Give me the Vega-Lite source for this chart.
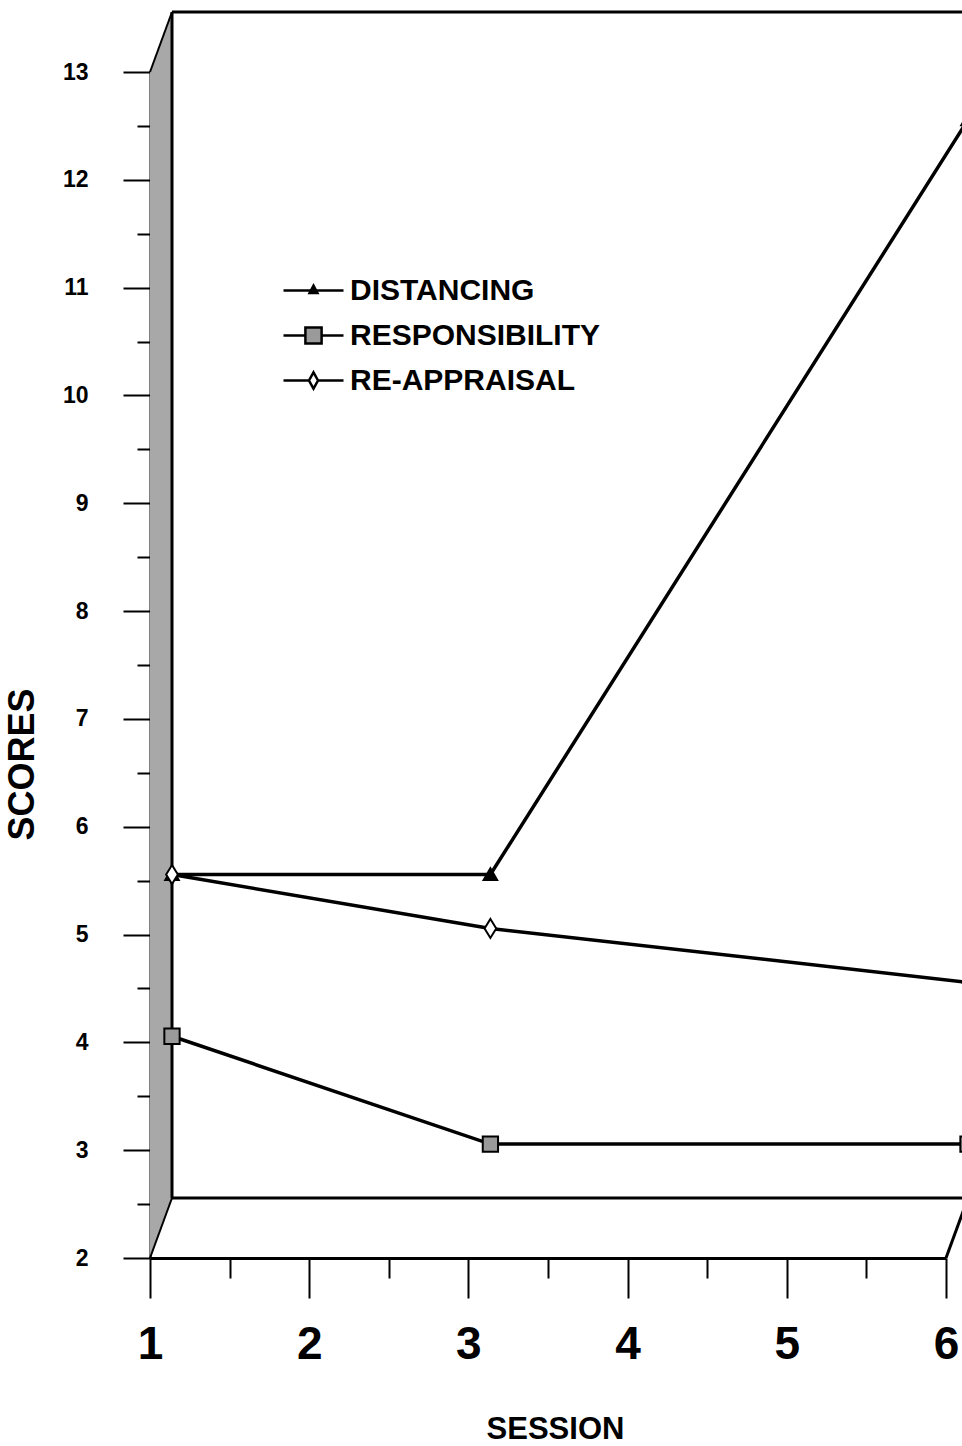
{
  "$schema": "https://vega.github.io/schema/vega-lite/v6.json",
  "width": 796,
  "height": 1186,
  "autosize": {"type": "none"},
  "padding": {"left": 150, "top": 72, "right": 16, "bottom": 188},
  "background": "white",
  "config": {"view": {"stroke": null}},
  "datasets": {
    "scores": [
      {"session": 1, "measure": "DISTANCING", "score": 5},
      {"session": 3, "measure": "DISTANCING", "score": 5},
      {"session": 6, "measure": "DISTANCING", "score": 12},
      {"session": 1, "measure": "RESPONSIBILITY", "score": 3.5},
      {"session": 3, "measure": "RESPONSIBILITY", "score": 2.5},
      {"session": 6, "measure": "RESPONSIBILITY", "score": 2.5},
      {"session": 1, "measure": "RE-APPRAISAL", "score": 5},
      {"session": 3, "measure": "RE-APPRAISAL", "score": 4.5},
      {"session": 6, "measure": "RE-APPRAISAL", "score": 4}
    ],
    "wall": [
      {"session": 1, "top": 13, "bottom": 2},
      {"session": 1.138, "top": 13.557, "bottom": 2.557}
    ]
  },
  "resolve": {"scale": {"shape": "independent", "fill": "independent", "stroke": "independent"}},
  "layer": [
    {
      "data": {"name": "wall"},
      "mark": {"type": "area", "orient": "vertical", "color": "#a8a8a8"},
      "encoding": {
        "x": {
          "field": "session", "type": "quantitative",
          "scale": {"domain": [1, 6], "nice": false, "zero": false},
          "axis": {
            "title": "SESSION",
            "values": [1, 1.5, 2, 2.5, 3, 3.5, 4, 4.5, 5, 5.5, 6],
            "labelExpr": "datum.value % 1 ? '' : '' + datum.value",
            "labelOverlap": false,
            "labelFlush": false,
            "grid": false,
            "domainColor": "black", "domainWidth": 3,
            "tickColor": "black", "tickWidth": 2, "tickSize": 40,
            "tickDash": {"condition": {"test": "datum.value % 1 !== 0", "value": [20, 40]}, "value": [60, 0]},
            "labelFont": "Liberation Sans", "labelFontSize": 46, "labelFontWeight": "bold", "labelColor": "black",
            "labelPadding": 24,
            "titleFont": "Liberation Sans", "titleFontSize": 31, "titleFontWeight": "bold", "titleColor": "black",
            "titleX": 405, "titleY": 180, "titleBaseline": "alphabetic", "titleAlign": "center"
          }
        },
        "y": {
          "field": "top", "type": "quantitative",
          "scale": {"domain": [2, 13], "nice": false, "zero": false},
          "axis": {
            "title": "SCORES",
            "values": [2, 2.5, 3, 3.5, 4, 4.5, 5, 5.5, 6, 6.5, 7, 7.5, 8, 8.5, 9, 9.5, 10, 10.5, 11, 11.5, 12, 12.5, 13],
            "labelExpr": "datum.value % 1 ? '' : '' + datum.value",
            "labelOverlap": false,
            "grid": false,
            "domainColor": "black", "domainWidth": 2,
            "tickColor": "black", "tickWidth": 2, "tickSize": 27,
            "tickDash": {"condition": {"test": "datum.value % 1 !== 0", "value": [13, 40]}, "value": [40, 0]},
            "labelFont": "Liberation Sans", "labelFontSize": 23, "labelFontWeight": "bold", "labelColor": "black",
            "labelPadding": 35,
            "titleFont": "Liberation Sans", "titleFontSize": 36, "titleFontWeight": "bold", "titleColor": "black",
            "titleX": -117, "titleY": 692, "titleBaseline": "alphabetic", "titleAlign": "center", "titleAngle": -90
          }
        },
        "y2": {"field": "bottom"}
      }
    },
    {
      "data": {"values": [{}]},
      "mark": {"type": "rule", "color": "black", "strokeWidth": 3, "xOffset": 22, "x2Offset": 22, "yOffset": -60},
      "encoding": {
        "x": {"datum": 1, "type": "quantitative", "scale": {"domain": [1, 6], "nice": false, "zero": false}},
        "x2": {"datum": 6},
        "y": {"datum": 13, "type": "quantitative", "scale": {"domain": [2, 13], "nice": false, "zero": false}}
      }
    },
    {
      "data": {"values": [{}]},
      "mark": {"type": "rule", "color": "black", "strokeWidth": 3, "xOffset": 22, "x2Offset": 22, "yOffset": -60},
      "encoding": {
        "x": {"datum": 1, "type": "quantitative", "scale": {"domain": [1, 6], "nice": false, "zero": false}},
        "x2": {"datum": 6},
        "y": {"datum": 2, "type": "quantitative", "scale": {"domain": [2, 13], "nice": false, "zero": false}}
      }
    },
    {
      "data": {"values": [{}]},
      "mark": {"type": "rule", "color": "black", "strokeWidth": 3, "xOffset": 22, "yOffset": -60, "y2Offset": -60},
      "encoding": {
        "x": {"datum": 1, "type": "quantitative", "scale": {"domain": [1, 6], "nice": false, "zero": false}},
        "y": {"datum": 13, "type": "quantitative", "scale": {"domain": [2, 13], "nice": false, "zero": false}},
        "y2": {"datum": 2}
      }
    },
    {
      "data": {"values": [{}]},
      "mark": {"type": "rule", "color": "black", "strokeWidth": 2, "x2Offset": 22, "y2Offset": -60},
      "encoding": {
        "x": {"datum": 1, "type": "quantitative", "scale": {"domain": [1, 6], "nice": false, "zero": false}},
        "x2": {"datum": 1},
        "y": {"datum": 13, "type": "quantitative", "scale": {"domain": [2, 13], "nice": false, "zero": false}},
        "y2": {"datum": 13}
      }
    },
    {
      "data": {"values": [{}]},
      "mark": {"type": "rule", "color": "black", "strokeWidth": 2, "x2Offset": 22, "y2Offset": -60},
      "encoding": {
        "x": {"datum": 1, "type": "quantitative", "scale": {"domain": [1, 6], "nice": false, "zero": false}},
        "x2": {"datum": 1},
        "y": {"datum": 2, "type": "quantitative", "scale": {"domain": [2, 13], "nice": false, "zero": false}},
        "y2": {"datum": 2}
      }
    },
    {
      "data": {"values": [{}]},
      "mark": {"type": "rule", "color": "black", "strokeWidth": 3, "x2Offset": 22, "y2Offset": -60},
      "encoding": {
        "x": {"datum": 6, "type": "quantitative", "scale": {"domain": [1, 6], "nice": false, "zero": false}},
        "x2": {"datum": 6},
        "y": {"datum": 2, "type": "quantitative", "scale": {"domain": [2, 13], "nice": false, "zero": false}},
        "y2": {"datum": 2}
      }
    },
    {
      "data": {"name": "scores"},
      "mark": {"type": "line", "color": "black", "strokeWidth": 3.5, "xOffset": 22, "yOffset": -60},
      "encoding": {
        "x": {"field": "session", "type": "quantitative", "scale": {"domain": [1, 6], "nice": false, "zero": false}},
        "y": {"field": "score", "type": "quantitative", "scale": {"domain": [2, 13], "nice": false, "zero": false}},
        "detail": {"field": "measure"}
      }
    },
    {
      "data": {"name": "scores"},
      "mark": {"type": "point", "filled": true, "stroke": "black", "strokeWidth": 2, "opacity": 1, "size": 324, "xOffset": 22, "yOffset": -60},
      "encoding": {
        "x": {"field": "session", "type": "quantitative", "scale": {"domain": [1, 6], "nice": false, "zero": false}},
        "y": {"field": "score", "type": "quantitative", "scale": {"domain": [2, 13], "nice": false, "zero": false}},
        "shape": {
          "field": "measure", "type": "nominal",
          "scale": {
            "domain": ["DISTANCING", "RESPONSIBILITY", "RE-APPRAISAL"],
            "range": ["M0,-0.7L0.75,0.6L-0.75,0.6Z", "M-0.85,-0.85L0.85,-0.85L0.85,0.85L-0.85,0.85Z", "M0,-1.05L0.65,0L0,1.05L-0.65,0Z"]
          },
          "legend": null
        },
        "fill": {
          "field": "measure", "type": "nominal",
          "scale": {"domain": ["DISTANCING", "RESPONSIBILITY", "RE-APPRAISAL"], "range": ["black", "#9a9a9a", "white"]},
          "legend": null
        }
      }
    },
    {
      "data": {"name": "scores"},
      "mark": {"type": "point", "filled": true, "strokeWidth": 2.5, "opacity": 0, "xOffset": 22, "yOffset": -60},
      "encoding": {
        "x": {"field": "session", "type": "quantitative", "scale": {"domain": [1, 6], "nice": false, "zero": false}},
        "y": {"field": "score", "type": "quantitative", "scale": {"domain": [2, 13], "nice": false, "zero": false}},
        "shape": {
          "field": "measure", "type": "nominal",
          "scale": {
            "domain": ["DISTANCING", "RESPONSIBILITY", "RE-APPRAISAL"],
            "range": ["M-1,0L1,0M0,-0.16L0.13,0.08L-0.13,0.08Z", "M-1,0L-0.27,0M0.27,0L1,0M-0.27,-0.27L0.27,-0.27L0.27,0.27L-0.27,0.27Z", "M-1,0L-0.15,0M0.15,0L1,0M0,-0.27L0.15,0L0,0.27L-0.15,0Z"]
          },
          "legend": {
            "orient": "none", "legendX": 132, "legendY": 203, "title": null,
            "symbolSize": 3600, "symbolStrokeWidth": 2.5, "symbolOpacity": 1,
            "clipHeight": 31, "rowPadding": 14,
            "labelFont": "Liberation Sans", "labelFontSize": 30, "labelFontWeight": "bold", "labelColor": "black",
            "labelOffset": 5, "labelLimit": 0
          }
        },
        "fill": {
          "field": "measure", "type": "nominal",
          "scale": {"domain": ["DISTANCING", "RESPONSIBILITY", "RE-APPRAISAL"], "range": ["black", "#9a9a9a", "white"]},
          "legend": {
            "orient": "none", "legendX": 132, "legendY": 203, "title": null,
            "symbolSize": 3600, "symbolStrokeWidth": 2.5, "symbolOpacity": 1,
            "clipHeight": 31, "rowPadding": 14,
            "labelFont": "Liberation Sans", "labelFontSize": 30, "labelFontWeight": "bold", "labelColor": "black",
            "labelOffset": 5, "labelLimit": 0
          }
        },
        "stroke": {
          "field": "measure", "type": "nominal",
          "scale": {"domain": ["DISTANCING", "RESPONSIBILITY", "RE-APPRAISAL"], "range": ["black", "black", "black"]},
          "legend": {
            "orient": "none", "legendX": 132, "legendY": 203, "title": null,
            "symbolSize": 3600, "symbolStrokeWidth": 2.5, "symbolOpacity": 1,
            "clipHeight": 31, "rowPadding": 14,
            "labelFont": "Liberation Sans", "labelFontSize": 30, "labelFontWeight": "bold", "labelColor": "black",
            "labelOffset": 5, "labelLimit": 0
          }
        }
      }
    }
  ]
}
